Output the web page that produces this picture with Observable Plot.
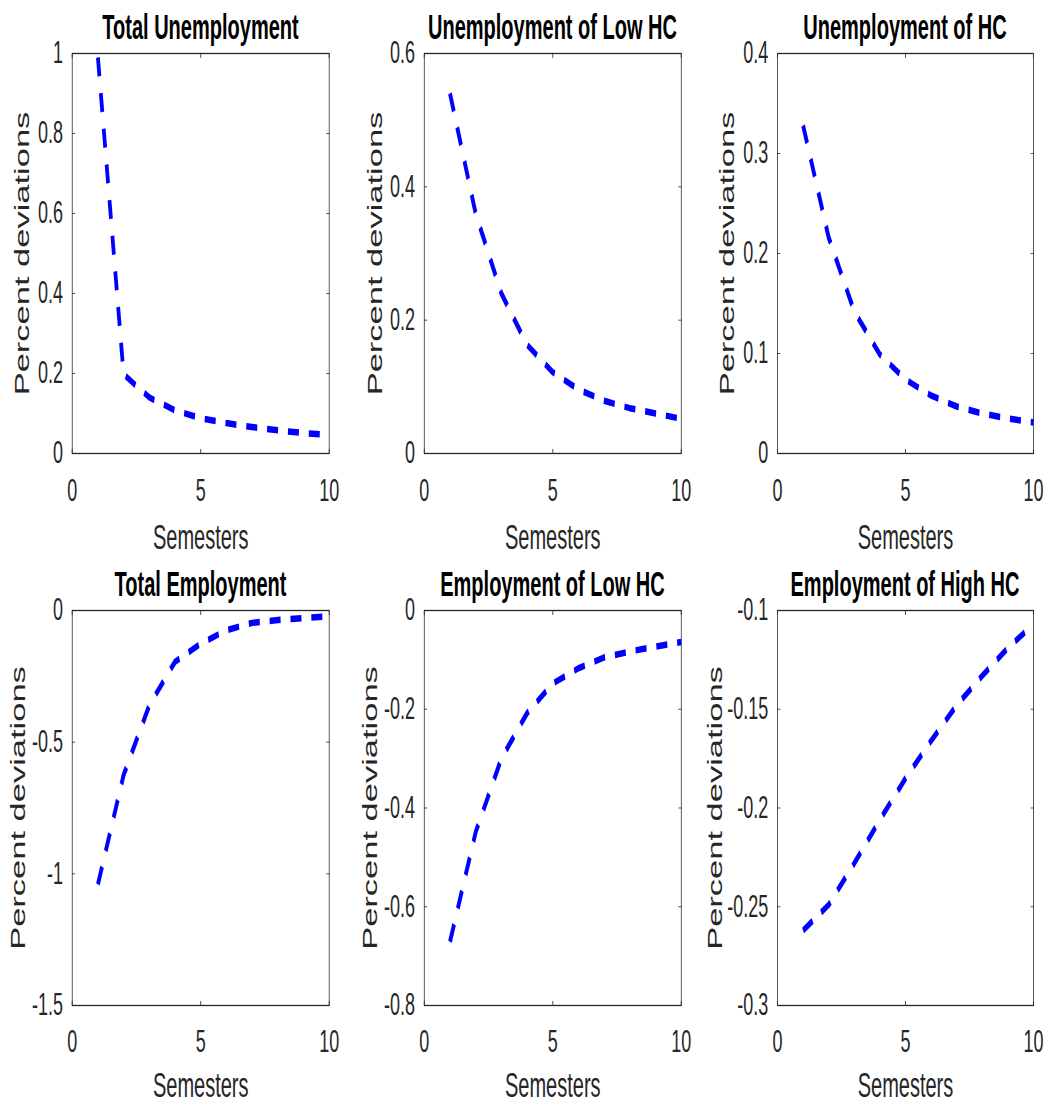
<!DOCTYPE html>
<html>
<head>
<meta charset="utf-8">
<script src="https://cdn.jsdelivr.net/npm/d3@7"></script>
<script src="https://cdn.jsdelivr.net/npm/@observablehq/plot@0.6"></script>
<style>
  html, body { margin: 0; padding: 0; background: #fff; overflow: hidden; }
  /* The whole figure is laid out wide, then compressed horizontally */
  #page {
    position: relative; width: 1807px; height: 1107px;
    transform: scaleX(0.58); transform-origin: 0 0;
    font-family: "Liberation Sans", Arial, Helvetica, sans-serif;
  }
  .panel { position: absolute; }
  .title {
    position: absolute; font-weight: bold; font-size: 34.5px; line-height: 34.5px;
    color: #000; white-space: nowrap; transform: translateX(-50%);
  }
</style>
</head>
<body>
<div id="page"></div>
<script>
// Impulse responses, in percent deviations, over ten semesters
const semesters = [1, 2, 3, 4, 5, 6, 7, 8, 9, 10];

const totalUnemployment = [0.99, 0.198, 0.14, 0.108, 0.088, 0.076, 0.066, 0.058, 0.051, 0.046];
const lowHCUnemployment = [0.54, 0.36, 0.24, 0.163, 0.122, 0.096, 0.079, 0.068, 0.060, 0.052];
const hcUnemployment    = [0.328, 0.216, 0.142, 0.099, 0.074, 0.058, 0.047, 0.040, 0.035, 0.031];
const totalEmployment   = [-1.04, -0.625, -0.36, -0.195, -0.126, -0.075, -0.047, -0.036, -0.029, -0.022];
const lowHCEmployment   = [-0.671, -0.449, -0.30, -0.208, -0.148, -0.117, -0.095, -0.083, -0.073, -0.064];
const highHCEmployment  = [-0.262, -0.249, -0.228, -0.206, -0.185, -0.166, -0.148, -0.133, -0.119, -0.107];

const panelTitles = [
  "Total Unemployment", "Unemployment of Low HC", "Unemployment of HC",
  "Total Employment", "Employment of Low HC", "Employment of High HC"
];
const panelSeries = [totalUnemployment, lowHCUnemployment, hcUnemployment,
                     totalEmployment, lowHCEmployment, highHCEmployment];
const yDomains = [[0, 1], [0, 0.6], [0, 0.4], [-1.5, 0], [-0.8, 0], [-0.3, -0.1]];
const yTicks = [
  [0, 0.2, 0.4, 0.6, 0.8, 1],
  [0, 0.2, 0.4, 0.6],
  [0, 0.1, 0.2, 0.3, 0.4],
  [-1.5, -1, -0.5, 0],
  [-0.8, -0.6, -0.4, -0.2, 0],
  [-0.3, -0.25, -0.2, -0.15, -0.1]
];
const xTicks = [0, 5, 10];
const xLabel = "Semesters";
const yLabel = "Percent deviations";

// ---- layout (horizontal values are given on the compressed page) ----
const S = 0.58;                       // horizontal compression
const colLeft = [72, 424, 777];
const colRight = [329, 681, 1033];
const rowTop = [53, 610];
const rowBottom = [453, 1005];
const yLabelDist = [[50, 49, 50], [54, 54, 62]];
const xTickPad = [25, 24];
const xLabelOffset = [96, 92];

const fmt = d => String(+d.toFixed(4));
const ink = "#262626";
const font = '"Liberation Sans", Arial, Helvetica, sans-serif';
const page = document.getElementById("page");

panelSeries.forEach((values, k) => {
  const r = Math.floor(k / 3), c = k % 3;
  const fl = colLeft[c] / S, fr = colRight[c] / S, fw = fr - fl;
  const ft = rowTop[r], fb = rowBottom[r], fh = fb - ft;
  const mL = 150, mR = 12, mT = 12, mB = 130;

  const chart = Plot.plot({
    width: mL + fw + mR,
    height: mT + fh + mB,
    marginLeft: mL, marginRight: mR, marginTop: mT, marginBottom: mB,
    style: {fontFamily: font, fontSize: "31px", color: ink, background: "transparent", overflow: "visible"},
    x: {domain: [0, 10]},
    y: {domain: yDomains[k]},
    marks: [
      Plot.frame({stroke: ink, strokeWidth: 1.3}),
      // tick labels
      Plot.axisX({ticks: xTicks, tickSize: 0, tickPadding: xTickPad[r], tickFormat: fmt, label: null, fontSize: 31, fill: ink}),
      Plot.axisY({ticks: yTicks[k], tickSize: 0, tickPadding: 16, tickFormat: fmt, label: null, fontSize: 31, fill: ink}),
      // inward ticks on all four sides
      Plot.axisX({anchor: "bottom", ticks: xTicks, tickSize: -4, text: null, label: null, stroke: ink}),
      Plot.axisX({anchor: "top", ticks: xTicks, tickSize: -4, text: null, label: null, stroke: ink}),
      Plot.axisY({anchor: "left", ticks: yTicks[k], tickSize: -5.5, text: null, label: null, stroke: ink}),
      Plot.axisY({anchor: "right", ticks: yTicks[k], tickSize: -5.5, text: null, label: null, stroke: ink}),
      // axis titles
      Plot.axisX({ticks: [], tickSize: 0, text: null, label: xLabel, labelAnchor: "center", labelArrow: "none",
                  labelOffset: xLabelOffset[r], fontSize: 34.5, fill: ink}),
      Plot.axisY({ticks: [], tickSize: 0, text: null, label: yLabel, labelAnchor: "center", labelArrow: "none",
                  labelOffset: yLabelDist[r][c] / S + 13, fontSize: 34.5, fill: ink}),
      // dashed response path
      Plot.line(semesters, {x: d => d, y: (d, i) => values[i], stroke: "#0000ff", strokeWidth: 6.5,
                            strokeDasharray: "19,17", strokeLinecap: "butt", strokeLinejoin: "miter"})
    ]
  });
  chart.classList.add("panel");
  chart.style.left = (fl - mL) + "px";
  chart.style.top = (ft - mT) + "px";
  page.appendChild(chart);

  const t = document.createElement("div");
  t.className = "title";
  t.textContent = panelTitles[k];
  t.style.left = ((fl + fr) / 2) + "px";
  t.style.top = (ft - 14 - 29.2) + "px";
  page.appendChild(t);
});
</script>
</body>
</html>
